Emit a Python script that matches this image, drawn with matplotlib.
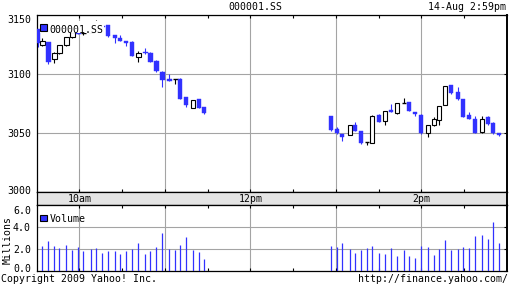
import matplotlib
matplotlib.use('Agg')
import matplotlib.pyplot as plt
from matplotlib.patches import Rectangle
from matplotlib.transforms import offset_copy, blended_transform_factory

# ---------------- data (minutes after 9:30) ----------------
t_am = [1.1, 4.1, 8.3, 12.5, 16.0, 20.9, 25.1, 29.3, 32.8, 38.4, 41.9, 46.1, 50.3, 55.2, 58.7,
        62.9, 67.1, 71.4, 76.3, 79.8, 84.0, 88.2, 93.1, 97.3, 100.8, 105.0, 109.9, 114.1, 117.6]
open_am = [3137.9, 3124.3, 3126.9, 3112.5, 3117.5, 3124.3, 3131.1, 3135.3, 3135.0, 3135.8, 3138.5,
           3140.3, 3141.3, 3133.1, 3130.3, 3128.0, 3127.4, 3114.2, 3118.9, 3118.1, 3111.3, 3102.0,
           3096.0, 3095.5, 3096.0, 3080.3, 3071.4, 3078.6, 3072.0]
high_am = [3138.2, 3130.3, 3127.2, 3118.9, 3124.9, 3131.4, 3136.0, 3135.6, 3136.4, 3138.8, 3145.5,
           3140.6, 3141.6, 3133.4, 3132.8, 3128.3, 3127.7, 3119.8, 3121.8, 3118.4, 3111.6, 3102.3,
           3100.0, 3096.0, 3096.3, 3080.6, 3077.9, 3079.1, 3072.3]
low_am = [3123.1, 3124.0, 3108.2, 3109.6, 3117.2, 3124.0, 3130.8, 3133.6, 3132.8, 3135.6, 3138.0,
          3139.0, 3131.7, 3126.5, 3128.0, 3124.0, 3115.2, 3110.4, 3117.0, 3109.9, 3102.0, 3089.2,
          3094.0, 3091.5, 3078.8, 3071.8, 3071.1, 3071.1, 3065.9]
close_am = [3126.5, 3128.0, 3110.4, 3117.5, 3124.6, 3131.1, 3135.3, 3133.9, 3135.0, 3138.5, 3140.3,
            3139.5, 3132.0, 3130.8, 3128.2, 3126.5, 3115.5, 3117.5, 3117.5, 3110.2, 3102.3, 3094.9,
            3094.3, 3095.5, 3079.1, 3073.5, 3077.7, 3071.4, 3066.7]
vol_am = [0, 2.30, 2.78, 2.30, 2.15, 2.39, 1.97, 2.21, 1.85, 2.03, 2.12, 1.66, 1.85, 1.85, 1.57,
          1.85, 2.03, 2.57, 1.57, 1.85, 2.21, 3.48, 2.03, 1.94, 2.39, 3.12, 1.94, 1.76, 1.12]

t_pm = [206.6, 210.8, 214.3, 219.9, 223.4, 227.7, 231.9, 235.4, 240.3, 244.5, 248.7, 252.9, 257.8,
        261.3, 265.5, 269.7, 274.6, 278.8, 282.3, 286.5, 290.7, 295.6, 299.1, 303.3, 307.5, 312.5,
        316.7, 320.2, 324.4]
open_pm = [3064.4, 3053.1, 3049.2, 3048.1, 3056.5, 3051.7, 3042.1, 3041.8, 3065.3, 3059.9, 3069.5,
           3067.2, 3075.7, 3076.3, 3067.8, 3065.5, 3049.7, 3056.5, 3061.0, 3073.7, 3090.7, 3084.5,
           3078.8, 3065.3, 3061.6, 3050.6, 3063.3, 3058.7, 3049.7]
high_pm = [3064.6, 3054.8, 3049.4, 3056.8, 3059.3, 3051.9, 3042.3, 3065.5, 3066.1, 3068.7, 3074.6,
           3075.5, 3079.4, 3076.6, 3068.0, 3065.8, 3056.8, 3063.3, 3073.2, 3090.1, 3091.0, 3089.2,
           3079.1, 3067.5, 3064.4, 3064.4, 3064.7, 3059.0, 3050.0]
low_pm = [3052.0, 3049.5, 3042.8, 3047.9, 3051.8, 3041.1, 3039.6, 3041.5, 3059.5, 3056.5, 3067.9,
          3066.1, 3075.5, 3068.5, 3064.7, 3049.5, 3046.9, 3056.2, 3057.0, 3073.4, 3083.3, 3078.3,
          3063.5, 3061.6, 3050.0, 3050.3, 3057.1, 3049.4, 3047.5]
close_pm = [3052.5, 3049.7, 3046.4, 3056.5, 3052.0, 3041.3, 3042.1, 3064.4, 3059.7, 3068.4, 3068.1,
            3075.2, 3075.7, 3068.9, 3065.9, 3049.7, 3056.5, 3061.6, 3072.9, 3089.8, 3084.2, 3078.6,
            3063.8, 3061.9, 3050.3, 3061.9, 3057.4, 3049.7, 3048.1]
vol_pm = [2.30, 2.21, 2.57, 2.03, 1.66, 1.94, 2.12, 2.30, 1.66, 1.57, 2.12, 1.39, 1.94, 1.39, 1.21,
          2.30, 2.21, 1.48, 2.03, 2.85, 1.94, 2.03, 2.21, 2.12, 3.21, 3.30, 2.94, 4.48, 2.57]

hour_pos = [30, 90, 150, 210, 270]
half_pos = [60, 120, 180, 240, 300]
time_labels = {30: '10am', 150: '12pm', 270: '2pm'}
price_ticks = [3000, 3050, 3100, 3150]
vol_ticks = [0, 2, 4, 6]

times = t_am + t_pm
opens = open_am + open_pm
highs = high_am + high_pm
lows = low_am + low_pm
closes = close_am + close_pm
vols = vol_am + vol_pm

# ---------------- styling ----------------
plt.rcParams['font.family'] = ['DejaVu Sans Mono']
plt.rcParams['font.size'] = 7.1
BLUE = '#3131ff'
GRID = '#a4a4a4'
W, H = 512, 288

fig = plt.figure(figsize=(5.12, 2.88), dpi=100)


def R(x0, y0, x1, y1):
    return [x0 / W, 1 - y1 / H, (x1 - x0) / W, (y1 - y0) / H]


def FX(x):
    return x / W


def FY(y):
    return 1 - y / H


axp = fig.add_axes(R(36.5, 15, 507, 192))
axb = fig.add_axes(R(36.5, 192, 507, 205.3))
axv = fig.add_axes(R(36.5, 205.3, 507, 271.3))

for ax in (axp, axb, axv):
    ax.set_xlim(0, 330)
    for s in ax.spines.values():
        s.set_color('black')
        s.set_linewidth(0.9)
    ax.spines['right'].set_linewidth(1.4)

# price axes
axp.set_ylim(3000, 3150)
axp.set_xticks(hour_pos)
axp.set_xticks(half_pos, minor=True)
axp.set_yticks(price_ticks)
axp.tick_params(axis='x', which='both', direction='in', top=True, bottom=True,
                length=2.3, width=0.8, labelbottom=False)
axp.tick_params(axis='y', direction='in', left=False, right=True, length=2.3, width=0.8,
                labelleft=False)
axp.grid(True, which='major', color=GRID, lw=0.8)
axp.set_axisbelow(True)

w = 3.2
for t, o, h, l, c in zip(times, opens, highs, lows, closes):
    if abs(c - o) < 0.3:
        axp.vlines(t, l, h, color='black', lw=0.8, zorder=2)
        axp.hlines(o, t - w / 2, t + w / 2, color='black', lw=1.0, zorder=3)
    elif c > o:
        axp.vlines(t, l, h, color='black', lw=0.8, zorder=2)
        axp.bar(t, c - o, bottom=o, width=w, facecolor='white', edgecolor='black',
                linewidth=0.8, zorder=3)
    else:
        axp.vlines(t, l, h, color=BLUE, lw=0.8, zorder=2)
        axp.bar(t, c - o, bottom=o, width=w, facecolor=BLUE, edgecolor=BLUE,
                linewidth=0.3, zorder=3)


def ylab(ax, v, s, dy):
    tr = offset_copy(blended_transform_factory(ax.transAxes, ax.transData), fig=fig,
                     x=-5.5, y=dy, units='dots')
    ax.text(0, v, s, transform=tr, ha='right', va='center', clip_on=False)


ylab(axp, 3150, '3150', -5)
ylab(axp, 3100, '3100', -1)
ylab(axp, 3050, '3050', -1)
ylab(axp, 3000, '3000', 1)

# legend in price axes
fig.add_artist(Rectangle((FX(40), FY(32.5)), (104 - 40) / W, (32.5 - 21) / H,
                         transform=fig.transFigure, facecolor='white', edgecolor='none', zorder=5))
fig.add_artist(Rectangle((FX(40.3), FY(30.7)), 6.4 / W, 6.4 / H, transform=fig.transFigure,
                         facecolor=BLUE, edgecolor='black', linewidth=0.8, zorder=6))
fig.text(FX(49), FY(32.7), '000001.SS', ha='left', va='baseline', zorder=7)

# band
axb.set_ylim(0, 1)
axb.set_facecolor('#e4e4e4')
axb.set_xticks([])
axb.set_yticks([])
btr = blended_transform_factory(axb.transData, fig.transFigure)
for pos, lbl in time_labels.items():
    axb.text(pos, FY(202.3), lbl, transform=btr, ha='center', va='baseline')

# volume axes
axv.set_ylim(0, 6)
axv.set_xticks(hour_pos)
axv.set_xticks(half_pos, minor=True)
axv.set_yticks(vol_ticks)
axv.tick_params(axis='x', which='both', direction='in', top=True, bottom=True,
                length=2.3, width=0.8, labelbottom=False)
axv.tick_params(axis='y', direction='in', left=False, right=True, length=2.3, width=0.8,
                labelleft=False)
axv.grid(True, which='major', color=GRID, lw=0.8)
axv.set_axisbelow(True)
axv.vlines(times, 0, vols, color=BLUE, lw=0.9, zorder=3)

ylab(axv, 6, '6.0', -6)
ylab(axv, 4, '4.0', -1)
ylab(axv, 2, '2.0', -1)
ylab(axv, 0, '0.0', 2)

fig.add_artist(Rectangle((FX(40.3), FY(221)), 6.4 / W, 6.4 / H, transform=fig.transFigure,
                         facecolor=BLUE, edgecolor='black', linewidth=0.8, zorder=6))
fig.text(FX(49.3), FY(222.3), 'Volume', ha='left', va='baseline', zorder=7)
fig.text(FX(7.5), FY(239.5), 'Millions', rotation=90, ha='center', va='center')

# titles & footers
fig.text(FX(255.5), FY(10.3), '000001.SS', ha='center', va='baseline')
fig.text(FX(505.5), FY(10.3), '14-Aug 2:59pm', ha='right', va='baseline')
fig.text(FX(1), FY(282.3), 'Copyright 2009 Yahoo! Inc.', ha='left', va='baseline')
fig.text(FX(508), FY(282.3), 'http://finance.yahoo.com/', ha='right', va='baseline')

fig.savefig('out.png', dpi=100)
